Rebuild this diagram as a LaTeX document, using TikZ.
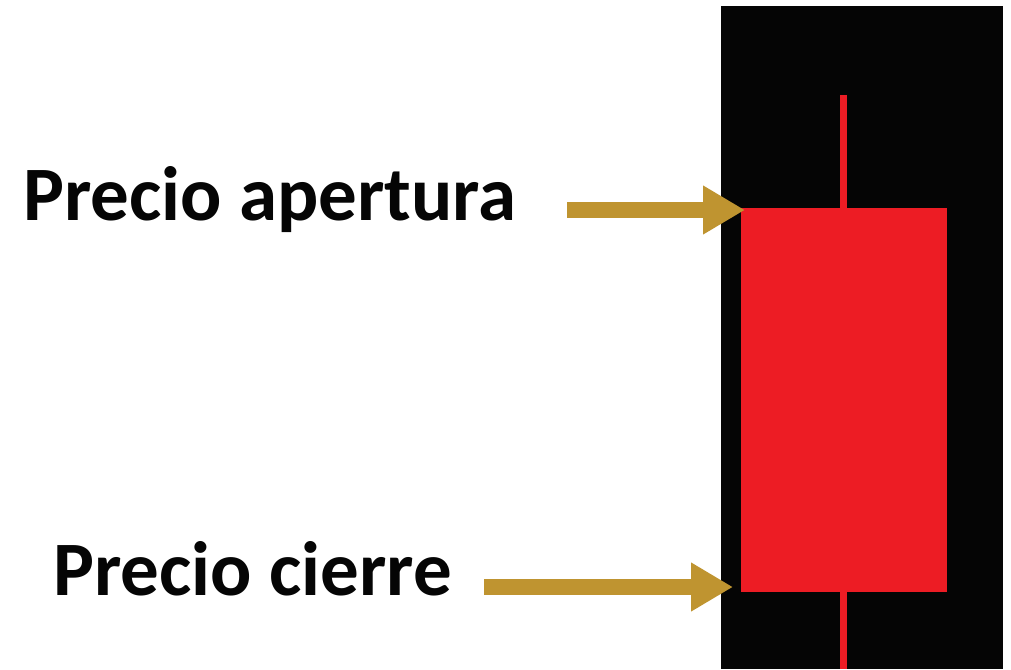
\documentclass[tikz,border=0pt]{standalone}
\usepackage{fontspec}
\setmainfont{Carlito}
\usetikzlibrary{arrows.meta,positioning}
\definecolor{gold}{HTML}{BF9430}
\definecolor{candlered}{HTML}{ED1C24}
\definecolor{panel}{HTML}{050505}

\begin{document}
\begin{tikzpicture}[x=1pt,y=-1pt,
                    label/.style={anchor=base west,inner sep=0,text=panel,
                                  font=\fontsize{77}{86}\selectfont\bfseries},
                    pointer/.style={gold,line width=15.5pt,
                                    -{Triangle[length=42pt,width=46pt]}}]

\useasboundingbox (0,0) rectangle (1011,669);
\fill[panel] (721,6) rectangle (1003,669);

\draw[candlered,line width=7pt] (843,95) -- (843,669);
\node[fill=candlered,inner sep=0,minimum width=206pt,minimum height=384pt] (body) at (844,400) {};

\node[label] (open) at (23,220) {Precio apertura};
\node[label] (close) at (53,595) {Precio cierre};

\coordinate (opentail) at (567,210);
\coordinate (openhead) at (745,210);
\coordinate (closetail) at (484,587);
\coordinate (closehead) at (733,587);

\draw[pointer] (opentail) -- (openhead);
\draw[pointer] (closetail) -- (closehead);

\end{tikzpicture}
\end{document}
